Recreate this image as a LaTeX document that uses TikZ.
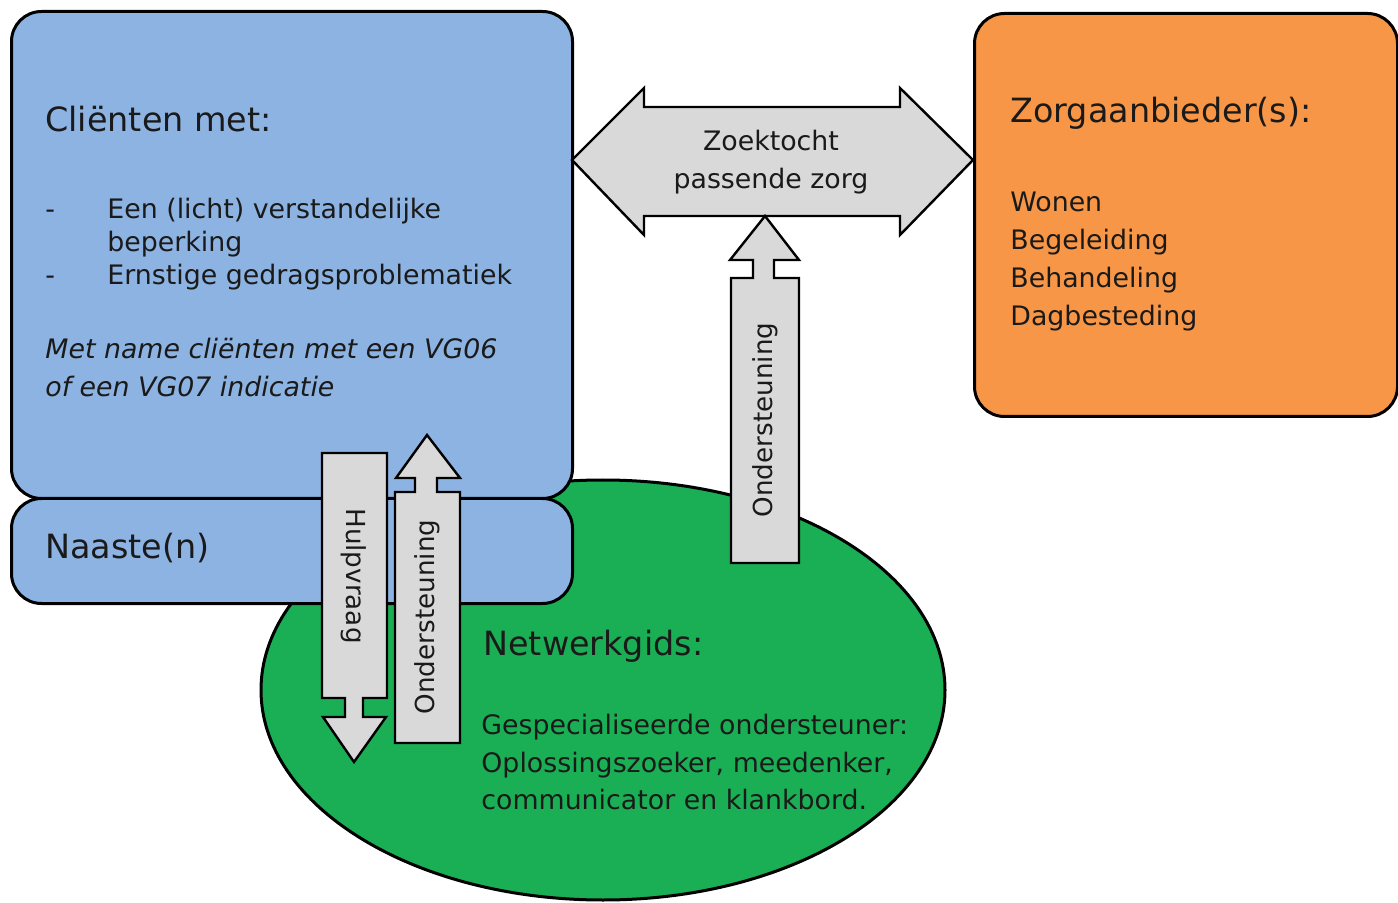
\documentclass[tikz,border=0pt]{standalone}
\usepackage{fontspec}
\setmainfont{DejaVu Sans}
\usetikzlibrary{shapes.geometric}
\definecolor{boxblue}{HTML}{8DB3E2}
\definecolor{boxorange}{HTML}{F79646}
\definecolor{gidsgreen}{HTML}{1AAF54}
\definecolor{arrowgray}{HTML}{D9D9D9}
\definecolor{txt}{HTML}{1A1A1A}
\tikzset{
  boxstyle/.style={draw=black, line width=1.5pt, inner sep=0pt, anchor=north west},
  blockarrow/.style={draw=black, fill=arrowgray, line width=1.2pt, line join=miter},
  title/.style={anchor=base west, inner sep=0pt, font=\fontsize{16.7pt}{19pt}\selectfont, text=txt},
  body/.style={anchor=base west, inner sep=0pt, font=\fontsize{13.4pt}{16pt}\selectfont, text=txt},
  rotlabel/.style={inner sep=0pt, font=\fontsize{13.1pt}{16pt}\selectfont, text=txt}
}
\begin{document}
\begin{tikzpicture}[x=0.5pt,y=-0.5pt]
\useasboundingbox (0,0) rectangle (1398,903);
% green ellipse (behind)
\node[ellipse, draw=black, line width=1.5pt, fill=gidsgreen, minimum width=342pt, minimum height=210pt, inner sep=0pt] (gids) at (603,690) {};
% boxes
\node[boxstyle, fill=boxblue, rounded corners=15pt, minimum width=280.5pt, minimum height=52.5pt] (naaste) at (10,497) {};
\node[boxstyle, fill=boxblue, rounded corners=15pt, minimum width=280.5pt, minimum height=243.5pt] (clienten) at (10,10) {};
\node[boxstyle, fill=boxorange, rounded corners=15pt, minimum width=211.5pt, minimum height=201.5pt] (zorg) at (973,12) {};

% double arrow
\draw[blockarrow] (572,160) -- (644,88) -- (644,107) -- (900,107) -- (900,88) -- (973,160)
  -- (900,235) -- (900,216) -- (644,216) -- (644,235) -- cycle;
% right up arrow
\draw[blockarrow] (731,563) -- (799,563) -- (799,278) -- (774,278) -- (774,260) -- (799,260)
  -- (765,216) -- (730,260) -- (753,260) -- (753,278) -- (731,278) -- cycle;
% Hulpvraag down arrow
\draw[blockarrow] (322,453) -- (387,453) -- (387,698) -- (363,698) -- (363,717) -- (386,717)
  -- (354,762) -- (323,717) -- (345,717) -- (345,698) -- (322,698) -- cycle;
% left up arrow
\draw[blockarrow] (395,743) -- (460,743) -- (460,492) -- (437,492) -- (437,478) -- (460,478)
  -- (427,435) -- (396,478) -- (415,478) -- (415,492) -- (395,492) -- cycle;

% texts
\node[title] (t1) at (45,132) {Cliënten met:};
\node[body] (b1) at (45,219) {-};
\node[body] (b2) at (45,285) {-};
\node[body] (l1) at (107,219) {Een (licht) verstandelijke};
\node[body] (l2) at (107,252) {beperking};
\node[body] (l3) at (107,285) {Ernstige gedragsproblematiek};
\node[body] (i1) at (45,359) {\itshape Met name cliënten met een VG06};
\node[body] (i2) at (45,397) {\itshape of een VG07 indicatie};
\node[title] (t2) at (45,559) {Naaste(n)};

\node[body, anchor=base] (z1) at (771,151) {Zoektocht};
\node[body, anchor=base] (z2) at (771,189) {passende zorg};

\node[title] (t3) at (1010,123) {Zorgaanbieder(s):};
\node[body] (w1) at (1010,212) {Wonen};
\node[body] (w2) at (1010,250) {Begeleiding};
\node[body] (w3) at (1010,288) {Behandeling};
\node[body] (w4) at (1010,326) {Dagbesteding};

\node[title] (t4) at (483,655) {Netwerkgids:};
\node[body] (g1) at (481,734) {Gespecialiseerde ondersteuner:};
\node[body] (g2) at (481,772) {Oplossingszoeker, meedenker,};
\node[body] (g3) at (481,809) {communicator en klankbord.};

\node[rotlabel, rotate=-90] (hv) at (354,576) {Hulpvraag};
\node[rotlabel, rotate=90] (o1) at (427,617) {Ondersteuning};
\node[rotlabel, rotate=90] (o2) at (765,420) {Ondersteuning};
\end{tikzpicture}
\end{document}
